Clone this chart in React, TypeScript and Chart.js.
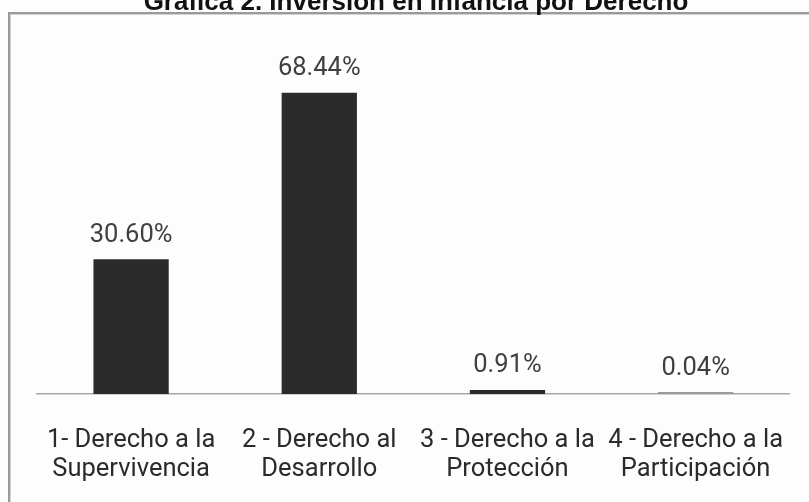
import React, { useEffect, useRef } from "react";
import { Chart, registerables } from "chart.js";

Chart.register(...registerables);

const TITLE = "Gráfica 2. Inversión en Infancia por Derecho";
const categories: string[][] = [
  ["1- Derecho a la", "Supervivencia"],
  ["2 - Derecho al", "Desarrollo"],
  ["3 - Derecho a la", "Protección"],
  ["4 - Derecho a la", "Participación"],
];
const values: number[] = [30.6, 68.44, 0.91, 0.04];
const valueLabels: string[] = ["30.60%", "68.44%", "0.91%", "0.04%"];
const barColors: string[] = ["#2b2b2b", "#2b2b2b", "#2b2b2b", "#9a9a9a"];

const decorPlugin = {
  id: "decor",
  beforeDraw(chart: any) {
    const ctx = chart.ctx;
    ctx.save();
    ctx.fillStyle = "#fdfdfd";
    ctx.fillRect(0, 0, chart.width, chart.height);
    // frame
    ctx.fillStyle = "#9a9a9a";
    ctx.fillRect(8, 12, chart.width, 2);
    ctx.fillRect(8, 12, 2, chart.height);
    ctx.fillStyle = "#d4d4d4";
    ctx.fillRect(10, 14, chart.width, 1);
    ctx.fillRect(10, 14, 1, chart.height);
    // title
    ctx.fillStyle = "#111";
    ctx.font = "bold 26px 'Liberation Sans', Arial, sans-serif";
    ctx.textAlign = "center";
    ctx.textBaseline = "alphabetic";
    ctx.fillText(TITLE, 416, 10);
    ctx.restore();
  },
  afterDatasetsDraw(chart: any) {
    const ctx = chart.ctx;
    const meta = chart.getDatasetMeta(0);
    ctx.save();
    ctx.fillStyle = "#404040";
    ctx.font = "25.5px Roboto";
    ctx.textAlign = "center";
    ctx.textBaseline = "alphabetic";
    meta.data.forEach((el: any, i: number) => {
      ctx.fillText(valueLabels[i], el.x, el.y - 17.5);
    });
    ctx.restore();
  },
};

export default function App() {
  const ref = useRef<HTMLCanvasElement>(null);
  useEffect(() => {
    if (!ref.current) return;
    const chart = new Chart(ref.current, {
      type: "bar",
      data: {
        labels: categories,
        datasets: [
          {
            data: values,
            backgroundColor: barColors,
            barPercentage: 0.4,
            categoryPercentage: 1,
            minBarLength: 2,
          },
        ],
      },
      options: {
        animation: false,
        responsive: false,
        devicePixelRatio: 1,
        layout: { padding: { left: 37, right: 16, top: 42, bottom: 0 } },
        plugins: { legend: { display: false }, tooltip: { enabled: false }, title: { display: false } },
        scales: {
          x: {
            grid: { display: false },
            border: { display: true, color: "#a8a8a8", width: 1.5 },
            ticks: {
              color: "#2b2b2b",
              font: { family: "Roboto", size: 25.5, lineHeight: "29px" as any },
              padding: 24,
              maxRotation: 0,
              autoSkip: false,
            },
            afterFit(scale: any) {
              scale.height = 108;
            },
          },
          y: { display: false, min: 0, max: 80 },
        },
      },
      plugins: [decorPlugin],
    });
    return () => chart.destroy();
  }, []);
  return (
    <div style={{ position: "fixed", left: 0, top: 0, width: 809, height: 502, overflow: "hidden" }}>
      <canvas ref={ref} width={809} height={502} style={{ display: "block" }} />
    </div>
  );
}
